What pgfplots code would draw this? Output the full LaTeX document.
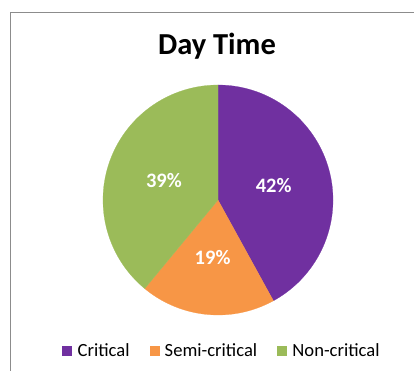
\documentclass[border=0pt]{standalone}
\usepackage{fontspec}
\setmainfont{Carlito}
\usepackage{pgfplots}
\pgfplotsset{compat=1.18}
\definecolor{cPurple}{HTML}{7030A0}
\definecolor{cOrange}{HTML}{F79646}
\definecolor{cGreen}{HTML}{9BBB59}
\definecolor{frameGray}{HTML}{8C8C8C}
\begin{document}
\begin{tikzpicture}
\useasboundingbox (0,0) rectangle (414pt,371pt);
% data (percent)
\def\vA{42}\def\vB{19}\def\vC{39}
\pgfmathsetmacro{\aA}{90}
\pgfmathsetmacro{\aB}{90-3.6*\vA}
\pgfmathsetmacro{\aC}{\aB-3.6*\vB}
\pgfmathsetmacro{\aD}{\aC-3.6*\vC}
\pgfmathsetmacro{\mA}{(\aA+\aB)/2}
\pgfmathsetmacro{\mB}{(\aB+\aC)/2}
\pgfmathsetmacro{\mC}{(\aC+\aD)/2}
\begin{axis}[at={(0,0)}, anchor=south west, scale only axis,
  width=414pt, height=371pt, xmin=0, xmax=414, ymin=0, ymax=371,
  hide axis, clip=false,
  legend columns=3,
  legend style={draw=none, fill=none, at={(axis cs:221,20)}, anchor=center,
    font=\fontsize{18.6}{22}\selectfont, nodes={inner sep=0pt},
    /tikz/every odd column/.append style={column sep=6pt},
    /tikz/every even column/.append style={column sep=20pt}},
  legend image code/.code={\path[#1] (0pt,-4.5pt) rectangle (9pt,4.5pt);}]
\addplot[draw=cPurple, line width=0.2pt, fill=cPurple, domain=\aB:\aA, samples=90, variable=\t]
  ({218+115*cos(\t)},{171+115*sin(\t)}) -- (axis cs:218,171) -- cycle;
\addlegendentry{Critical}
\addplot[draw=cOrange, line width=0.2pt, fill=cOrange, domain=\aC:\aB, samples=60, variable=\t]
  ({218+115*cos(\t)},{171+115*sin(\t)}) -- (axis cs:218,171) -- cycle;
\addlegendentry{Semi-critical}
\addplot[draw=cGreen, line width=0.2pt, fill=cGreen, domain=\aD:\aC, samples=90, variable=\t]
  ({218+115*cos(\t)},{171+115*sin(\t)}) -- (axis cs:218,171) -- cycle;
\addlegendentry{Non-critical}
\node[text=white, font=\fontsize{20.5}{24}\selectfont\bfseries] at (axis cs:{218+57.5*cos(\mA)},{171+57.5*sin(\mA)}) {\vA\%};
\node[text=white, font=\fontsize{20.5}{24}\selectfont\bfseries] at (axis cs:{218+57.5*cos(\mB)},{171+57.5*sin(\mB)}) {\vB\%};
\node[text=white, font=\fontsize{20.5}{24}\selectfont\bfseries] at (axis cs:{218+57.5*cos(\mC)},{171+57.5*sin(\mC)}) {\vC\%};
\node[anchor=base, font=\fontsize{30.5}{36}\selectfont\bfseries] at (axis cs:217,316) {Day Time};
\draw[frameGray, line width=0.9pt] (axis cs:10,0) -- (axis cs:10,359) -- (axis cs:414,359);
\end{axis}
\end{tikzpicture}
\end{document}
